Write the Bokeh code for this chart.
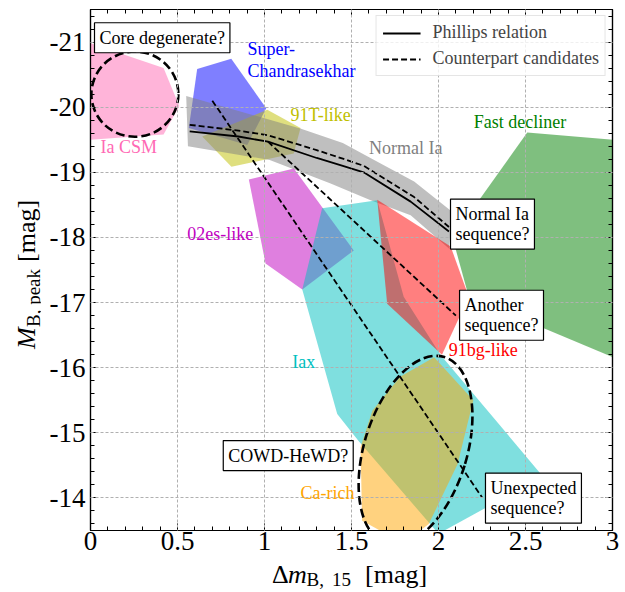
import numpy as np
from bokeh.plotting import figure
from bokeh.layouts import row, column
from bokeh.models import (Range1d, Label, LinearAxis, SingleIntervalTicker, Div,
                          Legend, LegendItem, CustomJSTickFormatter)
from bokeh.embed import file_html
from bokeh.resources import INLINE

SERIF = "Liberation Serif"

# ---------------- data ----------------
x_tick_values = [0, 0.5, 1, 1.5, 2, 2.5, 3]
x_tick_labels = ["0", "0.5", "1", "1.5", "2", "2.5", "3"]
y_tick_values = [-21, -20, -19, -18, -17, -16, -15, -14]
y_tick_labels = ["-21", "-20", "-19", "-18", "-17", "-16", "-15", "-14"]

ia_csm_x = [0.0, 0.42, 0.51, 0.42, 0.0]
ia_csm_y = [-20.98, -20.60, -20.02, -19.58, -19.50]

super_ch_x = [0.613, 0.809, 1.010, 0.901, 0.565]
super_ch_y = [-20.585, -20.743, -19.985, -19.42, -19.68]

t91_x = [0.642, 1.016, 1.207, 1.168, 0.810]
t91_y = [-19.55, -19.96, -19.68, -19.29, -19.086]

normal_x = [0.55, 1.21, 1.45, 1.67, 1.86, 2.08, 2.06, 1.84, 1.61, 1.38, 1.03, 0.56]
normal_y = [-20.17, -19.67, -19.45, -19.13, -18.86, -18.39, -17.83, -18.34, -18.57, -18.83, -19.19, -19.40]

es02_x = [0.91, 1.169, 1.513, 1.217, 1.006]
es02_y = [-18.89, -19.06, -17.80, -17.20, -17.60]

iax_x = [1.331, 1.648, 1.80, 2.011, 2.60, 2.00, 1.542, 1.418, 1.217]
iax_y = [-18.45, -18.57, -17.09, -16.20, -14.33, -13.45, -14.87, -15.29, -17.20]

bg91_x = [1.648, 2.07, 2.174, 2.02, 1.705]
bg91_y = [-18.58, -17.86, -17.09, -16.20, -16.98]

fast_x = [2.51, 3.10, 3.10, 2.174, 2.08]
fast_y = [-19.61, -19.48, -16.05, -17.09, -18.00]

carich_x = [1.552, 1.62, 1.78, 1.975, 2.20, 2.11, 1.944, 1.80, 1.561]
carich_y = [-14.78, -15.34, -15.86, -16.16, -15.50, -14.52, -13.60, -13.30, -13.65]

phillips_x = [0.57, 0.85, 1.02, 1.30, 1.45, 1.57, 1.84, 2.06]
phillips_y = [-19.63, -19.55, -19.47, -19.22, -19.10, -19.00, -18.55, -18.09]

normal_seq_x = [0.57, 0.85, 1.02, 1.30, 1.45, 1.57, 1.86, 2.06]
normal_seq_y = [-19.73, -19.64, -19.57, -19.34, -19.21, -19.10, -18.62, -18.16]

another_seq_x = [1.02, 2.10]
another_seq_y = [-19.47, -16.80]

unexpected_seq_x = [0.70, 2.25]
unexpected_seq_y = [-20.10, -14.01]

# ellipses: centre x, centre y, width, height, angle
core_ellipse = [0.255, -20.20, 0.50, 1.31, 0.0]
cowd_ellipse = [1.868, -14.73, 0.59, 3.00, -0.30]

class_names = ["Ia CSM", "Super-\nChandrasekhar", "91T-like", "Normal Ia", "Fast decliner",
               "02es-like", "Iax", "91bg-like", "Ca-rich"]
box_texts = ["Core degenerate?", "Normal Ia\nsequence?", "Another\nsequence?",
             "COWD-HeWD?", "Unexpected\nsequence?"]
legend_texts = ["Phillips relation", "Counterpart candidates"]

# ---------------- figure ----------------
YLAB_W = 40
P_H = 561
p = figure(frame_width=522, frame_height=521,
           x_range=Range1d(0, 3), y_range=Range1d(-13.5, -21.5),
           output_backend="svg", toolbar_location=None,
           min_border_left=50, min_border_right=10, min_border_top=9, min_border_bottom=31)
p.background_fill_color = "white"
p.border_fill_color = "white"
p.outline_line_color = "black"
p.outline_line_width = 1.2

xt = SingleIntervalTicker(interval=0.5, num_minor_ticks=5)
yt = SingleIntervalTicker(interval=1, num_minor_ticks=5)
p.xaxis.ticker = xt
p.yaxis.ticker = yt
p.xgrid.ticker = xt
p.ygrid.ticker = yt
p.xaxis.major_label_overrides = {v: s for v, s in zip(x_tick_values, x_tick_labels)}
p.yaxis.major_label_overrides = {v: s for v, s in zip(y_tick_values, y_tick_labels)}

for ax in (p.xaxis[0], p.yaxis[0]):
    ax.major_label_text_font = SERIF
    ax.major_label_text_font_size = "27px"
    ax.major_label_text_color = "black"
    ax.major_tick_in = 7
    ax.major_tick_out = 0
    ax.minor_tick_in = 4
    ax.minor_tick_out = 0
    ax.major_tick_line_color = "black"
    ax.minor_tick_line_color = "black"
    ax.axis_line_color = "black"
    ax.axis_line_width = 1.2
p.xaxis.major_label_standoff = 1
p.yaxis.major_label_standoff = 5

for loc, tk in (("above", xt), ("right", yt)):
    ax = LinearAxis(ticker=tk, formatter=CustomJSTickFormatter(code="return ''"),
                    major_label_text_font_size="0px", major_label_standoff=0,
                    major_tick_in=7, major_tick_out=0, minor_tick_in=4, minor_tick_out=0,
                    major_tick_line_color="black", minor_tick_line_color="black",
                    axis_line_color="black", axis_line_width=1.2)
    p.add_layout(ax, loc)

for g in (p.xgrid[0], p.ygrid[0]):
    g.grid_line_color = "#b0b0b0"
    g.grid_line_dash = "3 2"
    g.grid_line_width = 1
    g.level = "guide"

# ---------------- regions ----------------
regions = [
    (ia_csm_x, ia_csm_y, "hotpink"),
    (super_ch_x, super_ch_y, "#0000ff"),
    (t91_x, t91_y, "#bfbf00"),
    (normal_x, normal_y, "#808080"),
    (es02_x, es02_y, "#bf00bf"),
    (iax_x, iax_y, "#00bfbf"),
    (bg91_x, bg91_y, "#ff0000"),
    (fast_x, fast_y, "#008000"),
    (carich_x, carich_y, "orange"),
]
for xs, ys, c in regions:
    p.patch(xs, ys, fill_color=c, fill_alpha=0.5, line_color=None)

# ---------------- lines ----------------
r_ph = p.line(phillips_x, phillips_y, line_color="black", line_width=1.8)
r_ns = p.line(normal_seq_x, normal_seq_y, line_color="black", line_width=1.8, line_dash="6 3")
p.line(another_seq_x, another_seq_y, line_color="black", line_width=1.8, line_dash="6 3")
p.line(unexpected_seq_x, unexpected_seq_y, line_color="black", line_width=1.8, line_dash="6 3")

for cx, cy, w, h, a in (core_ellipse, cowd_ellipse):
    p.ellipse(x=[cx], y=[cy], width=[w], height=[h], angle=[a], fill_color=None,
              line_color="black", line_width=2.6, line_dash="9 4")

# ---------------- class labels ----------------
label_pos = [(0.057, -19.39, "hotpink"), (0.902, -20.725, "#0000ff"), (1.149, -19.88, "#bfbf00"),
             (1.60, -19.37, "#808080"), (2.203, -19.78, "#008000"), (0.556, -18.06, "#bf00bf"),
             (1.159, -16.09, "#00bfbf"), (2.059, -16.27, "#ff0000"), (1.207, -14.07, "orange")]
for txt, (x, y, c) in zip(class_names, label_pos):
    p.add_layout(Label(x=x, y=y, text=txt, text_color=c, text_font=SERIF,
                       text_font_size="18px", text_align="left", text_baseline="middle",
                       text_line_height=1.1))

# boxed questions (x = left edge of the box)
box_pos = [(0.023, -21.066), (2.069, -18.205), (2.121, -16.805), (0.763, -14.651), (2.270, -13.997)]
for txt, (x, y) in zip(box_texts, box_pos):
    p.add_layout(Label(x=x, y=y, text=txt, text_color="black", text_font=SERIF,
                       text_font_size="18px", text_align="left", text_baseline="middle",
                       text_line_height=1.0, padding=5,
                       background_fill_color="white", background_fill_alpha=1.0,
                       border_line_color="black", border_line_width=1.2))

# ---------------- legend ----------------
legend = Legend(items=[LegendItem(label=legend_texts[0], renderers=[r_ph]),
                       LegendItem(label=legend_texts[1], renderers=[r_ns])],
                location="top_right", label_text_font=SERIF, label_text_font_size="18px",
                glyph_width=38, glyph_height=20, label_height=20, label_standoff=12,
                padding=6, spacing=5, margin=6, border_line_color="#cccccc",
                border_line_width=1, background_fill_alpha=0.8)
p.add_layout(legend)

# ---------------- axis titles as real HTML text ----------------
FONT = "font-family:'Liberation Serif',serif;color:black;white-space:nowrap;position:absolute;"

def span(left, top, text, size, lh, italic=False, rotate=False):
    st = "font-style:italic;" if italic else ""
    if rotate:
        st += "transform-origin:0 0;transform:rotate(-90deg);"
    return (f"<span style=\"{FONT}{st}left:{left}px;top:{top}px;font-size:{size}px;"
            f"line-height:{lh}px;\">{text}</span>")

XLAB_H = 30
xlab_html = (f"<div style=\"position:relative;width:622px;height:{XLAB_H}px;\">"
             + span(272, 1.2, "Δ", 26, 26)
             + span(288, 1.2, "m", 26, 26, italic=True)
             + span(306.5, 11.1, "B,", 19, 16)
             + span(332, 11.1, "15", 19, 16)
             + span(365, 1.2, "[mag]", 26, 26)
             + "</div>")

ylab_html = (f"<div style=\"position:relative;width:{YLAB_W}px;height:{P_H}px;\">"
             + span(14.2, 349, "M", 26, 26, italic=True, rotate=True)
             + span(23.6, 327, "B, peak", 19, 19, rotate=True)
             + span(14.2, 262, "[mag]", 26, 26, rotate=True)
             + "</div>")

xlab = Div(text=xlab_html, width=622, height=XLAB_H, margin=0)
ylab = Div(text=ylab_html, width=YLAB_W, height=P_H, margin=0)

layout = column(row(ylab, p, spacing=0), xlab, spacing=0)

open("out.html", "w").write(file_html(layout, INLINE))
